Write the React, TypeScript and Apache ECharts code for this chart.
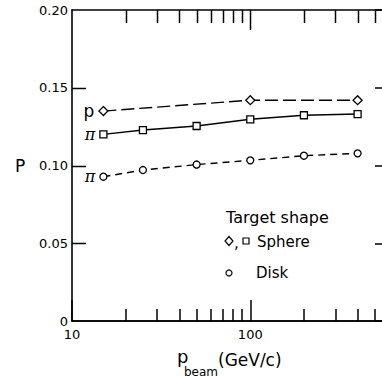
import React, { useEffect, useRef } from "react";
import * as echarts from "echarts";

// ---- data ----
const pBeam = [15, 25, 50, 100, 200, 400];
const protonBeam = [15, 100, 400];
const protonSphere = [0.135, 0.142, 0.142];
const pionSphere = [0.12, 0.1228, 0.1254, 0.1297, 0.1323, 0.1331];
const pionDisk = [0.0928, 0.0971, 0.1006, 0.1033, 0.1063, 0.1078];
const xMajorTicks = [100];
const xMinorTicks = [20, 30, 40, 50, 60, 70, 80, 90, 200, 300, 400, 500];
const yInnerTicks = [0.05, 0.1, 0.15];
const X_MIN = 10;
const X_MAX = 600;
const Y_MIN = 0;
const Y_MAX = 0.2;
const Y_STEP = 0.05;

const FONT = "DejaVu Sans";
const GRID_LEFT = 72;
const GRID_TOP = 10;
const GRID_RIGHT = -7;
const GRID_HEIGHT = 311;
const CHART_W = 382;

function buildData(xs: number[], ys: number[], tag: string, italic: boolean) {
  return xs.map((x, i) =>
    i === 0
      ? {
          value: [x, ys[i]],
          label: {
            show: true,
            formatter: tag,
            position: "left",
            distance: 4,
            color: "#000",
            fontSize: italic ? 16 : 17,
            fontStyle: italic ? "italic" : "normal",
            fontFamily: italic ? "DejaVu Serif" : FONT,
          },
        }
      : [x, ys[i]]
  );
}

const tickStyle = () => ({ color: "#000", width: 1.5 });
const lineBlack = () => ({ show: true, onZero: false, lineStyle: { color: "#000", width: 1.6 } });

export default function App() {
  const ref = useRef<HTMLDivElement>(null);
  useEffect(() => {
    if (!ref.current) return;
    const chart = echarts.init(ref.current, null, { renderer: "svg" });
    const logMin = Math.log10(X_MIN);
    const logMax = Math.log10(X_MAX);
    const minorLog = xMinorTicks.map((v) => Math.log10(v));
    const markerStyle = { color: "#fff", borderColor: "#000", borderWidth: 1.3 };

    // edge tick marks (top and left frame), placed on the same log / linear scales as the grid
    const plotW = CHART_W - GRID_LEFT - GRID_RIGHT;
    const xPix = (v: number) => GRID_LEFT + (plotW * (Math.log10(v) - logMin)) / (logMax - logMin);
    const yPix = (v: number) => GRID_TOP + (GRID_HEIGHT * (Y_MAX - v)) / (Y_MAX - Y_MIN);
    const stroke = { stroke: "#000", lineWidth: 1.5 };
    const tickLines: any[] = [];
    xMinorTicks.forEach((v) => {
      const x = Math.round(xPix(v)) + 0.5;
      tickLines.push({ type: "line", z: 100, shape: { x1: x, y1: GRID_TOP, x2: x, y2: GRID_TOP + 13 }, style: stroke });
    });
    xMajorTicks.forEach((v) => {
      const x = Math.round(xPix(v)) + 0.5;
      tickLines.push({ type: "line", z: 100, shape: { x1: x, y1: GRID_TOP, x2: x, y2: GRID_TOP + 20 }, style: stroke });
    });
    yInnerTicks.forEach((v) => {
      const y = Math.round(yPix(v)) + 0.5;
      tickLines.push({ type: "line", z: 100, shape: { x1: GRID_LEFT, y1: y, x2: GRID_LEFT + 14, y2: y }, style: stroke });
    });

    const textGraphics: any[] = [
      { type: "text", x: 15, y: 166, style: { text: "P", fontSize: 17, fontFamily: FONT, fill: "#000", verticalAlign: "middle" } },
      { type: "text", x: 177, y: 356, style: { text: "p", fontSize: 18, fontFamily: FONT, fill: "#000", verticalAlign: "middle" } },
      { type: "text", x: 184, y: 372, style: { text: "beam", fontSize: 12, fontFamily: FONT, fill: "#000", verticalAlign: "middle" } },
      { type: "text", x: 218, y: 360, style: { text: "(GeV/c)", fontSize: 17, fontFamily: FONT, fill: "#000", verticalAlign: "middle" } },
      { type: "text", x: 226, y: 217, style: { text: "Target shape", fontSize: 16, fontFamily: FONT, fill: "#000", verticalAlign: "middle" } },
      {
        type: "polygon",
        shape: { points: [[229, 236.5], [233, 241], [229, 245.5], [225, 241]] },
        style: { fill: "#fff", stroke: "#000", lineWidth: 1.2 },
      },
      { type: "text", x: 234, y: 243, style: { text: ",", fontSize: 15, fontFamily: FONT, fill: "#000", verticalAlign: "middle" } },
      { type: "rect", shape: { x: 243, y: 238, width: 6, height: 6 }, style: { fill: "#fff", stroke: "#000", lineWidth: 1.2 } },
      { type: "text", x: 257, y: 242, style: { text: "Sphere", fontSize: 15, fontFamily: FONT, fill: "#000", verticalAlign: "middle" } },
      { type: "circle", shape: { cx: 229, cy: 273, r: 3 }, style: { fill: "#fff", stroke: "#000", lineWidth: 1.2 } },
      { type: "text", x: 256, y: 273, style: { text: "Disk", fontSize: 15, fontFamily: FONT, fill: "#000", verticalAlign: "middle" } },
    ];

    chart.setOption({
      animation: false,
      textStyle: { fontFamily: FONT },
      grid: { left: GRID_LEFT, top: GRID_TOP, right: GRID_RIGHT, height: GRID_HEIGHT, outerBoundsMode: "none", containLabel: false },
      xAxis: [
        {
          type: "log",
          logBase: 10,
          min: X_MIN,
          max: X_MAX,
          position: "bottom",
          axisLine: lineBlack(),
          axisTick: { show: true, inside: true, length: 21, lineStyle: tickStyle() },
          axisLabel: { fontSize: 13, color: "#000", margin: 7, fontFamily: FONT, showMaxLabel: false, showMinLabel: true },
          splitLine: { show: false },
        },
        {
          type: "value",
          min: logMin,
          max: logMax,
          position: "bottom",
          axisLine: lineBlack(),
          axisTick: { show: true, inside: true, length: 12, customValues: minorLog, lineStyle: tickStyle() },
          axisLabel: { show: false },
          splitLine: { show: false },
        },
        {
          type: "log",
          logBase: 10,
          min: X_MIN,
          max: X_MAX,
          position: "top",
          axisLine: lineBlack(),
          axisTick: { show: false },
          axisLabel: { show: false },
          splitLine: { show: false },
        },
      ],
      yAxis: [
        {
          type: "value",
          min: Y_MIN,
          max: Y_MAX,
          interval: Y_STEP,
          position: "left",
          axisLine: lineBlack(),
          axisTick: { show: false },
          axisLabel: {
            fontSize: 13,
            color: "#000",
            margin: 4,
            fontFamily: FONT,
            formatter: (v: number) => (v === 0 ? "0" : v.toFixed(2)),
          },
          splitLine: { show: false },
        },
        {
          type: "value",
          min: Y_MIN,
          max: Y_MAX,
          interval: Y_STEP,
          position: "right",
          axisLine: lineBlack(),
          axisTick: { show: true, inside: true, length: 14, lineStyle: tickStyle() },
          axisLabel: { show: false },
          splitLine: { show: false },
        },
      ],
      series: [
        {
          name: "p sphere",
          type: "line",
          xAxisIndex: 0,
          yAxisIndex: 0,
          data: buildData(protonBeam, protonSphere, "p", false),
          symbol: "diamond",
          symbolSize: 9,
          showAllSymbol: true,
          lineStyle: { color: "#000", width: 1.4, type: [13, 5] },
          itemStyle: markerStyle,
          z: 3,
        },
        {
          name: "pi sphere",
          type: "line",
          xAxisIndex: 0,
          yAxisIndex: 0,
          data: buildData(pBeam, pionSphere, "π", true),
          symbol: "rect",
          symbolSize: 7,
          showAllSymbol: true,
          lineStyle: { color: "#000", width: 1.4 },
          itemStyle: markerStyle,
          z: 3,
        },
        {
          name: "pi disk",
          type: "line",
          xAxisIndex: 0,
          yAxisIndex: 0,
          data: buildData(pBeam, pionDisk, "π", true),
          symbol: "circle",
          symbolSize: 7,
          showAllSymbol: true,
          lineStyle: { color: "#000", width: 1.4, type: [7, 5] },
          itemStyle: markerStyle,
          z: 3,
        },
      ],
      graphic: [...textGraphics, ...tickLines],
    });

    return () => chart.dispose();
  }, []);
  return <div ref={ref} style={{ width: 382, height: 381, position: "absolute", left: 0, top: 0 }} />;
}
